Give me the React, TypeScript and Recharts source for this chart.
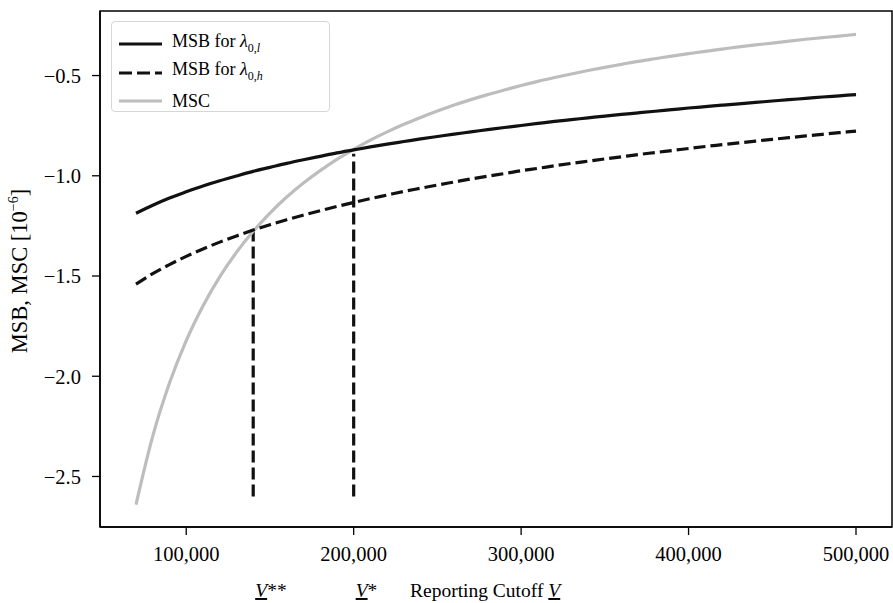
import { LineChart, Line, XAxis, YAxis, Legend, ReferenceLine, ReferenceArea } from "recharts";

// reporting cutoff V (in units of 1)
const cutoffs = [
  70000, 80000, 90000, 100000, 110000, 120000, 130000, 140000, 150000, 160000,
  170000, 180000, 190000, 200000, 210000, 220000, 230000, 240000, 250000, 260000,
  270000, 280000, 290000, 300000, 310000, 320000, 330000, 340000, 350000, 360000,
  370000, 380000, 390000, 400000, 410000, 420000, 430000, 440000, 450000, 460000,
  470000, 480000, 490000, 500000,
];

// marginal social benefit, low lambda_0
const msbLow = [
  -1.187, -1.147, -1.111, -1.08, -1.051, -1.025, -1.001, -0.978, -0.958, -0.938,
  -0.92, -0.903, -0.886, -0.871, -0.856, -0.842, -0.829, -0.816, -0.804, -0.792,
  -0.781, -0.77, -0.759, -0.749, -0.739, -0.729, -0.72, -0.711, -0.702, -0.694,
  -0.686, -0.678, -0.67, -0.662, -0.655, -0.648, -0.641, -0.634, -0.627, -0.62,
  -0.614, -0.607, -0.601, -0.595,
];

// marginal social benefit, high lambda_0
const msbHigh = [
  -1.54, -1.488, -1.443, -1.402, -1.365, -1.331, -1.3, -1.271, -1.244, -1.219,
  -1.196, -1.174, -1.153, -1.133, -1.114, -1.096, -1.078, -1.062, -1.046, -1.031,
  -1.016, -1.002, -0.989, -0.975, -0.963, -0.95, -0.938, -0.927, -0.916, -0.905,
  -0.894, -0.884, -0.874, -0.864, -0.854, -0.845, -0.836, -0.827, -0.818, -0.81,
  -0.801, -0.793, -0.785, -0.777,
];

// marginal social cost
const msc = [
  -2.64, -2.299, -2.034, -1.822, -1.649, -1.504, -1.382, -1.277, -1.186, -1.106,
  -1.036, -0.974, -0.918, -0.868, -0.822, -0.781, -0.743, -0.709, -0.677, -0.647,
  -0.62, -0.595, -0.572, -0.55, -0.529, -0.51, -0.492, -0.475, -0.459, -0.444,
  -0.429, -0.416, -0.403, -0.391, -0.379, -0.368, -0.357, -0.347, -0.338, -0.328,
  -0.319, -0.311, -0.303, -0.295,
];

const xTicks = [100000, 200000, 300000, 400000, 500000];
const yTicks = [-2.5, -2.0, -1.5, -1.0, -0.5];

// crossing points: V** (MSB high = MSC) and V* (MSB low = MSC)
const vStarStar = { x: 140000, y: -1.28, label: "**" };
const vStar = { x: 200000, y: -0.89, label: "*" };
const dropTo = -2.6;

const xDomain = [48500, 521500];
const yDomain = [-2.752, -0.178];

const data = cutoffs.map((v, i) => ({
  v,
  msbLow: msbLow[i],
  msbHigh: msbHigh[i],
  msc: msc[i],
}));

const FONT = "'Liberation Serif', 'Times New Roman', serif";
const TICK_SIZE = 20.5;
const DASH = "12 5";
const GREY = "#bdbdbd";

const fmtX = (v: number) => v.toLocaleString("en-US");
const fmtY = (v: number) => (v < 0 ? "\u2212" : "") + Math.abs(v).toFixed(1);

function YLabel(props: any) {
  const vb = props.viewBox;
  const cx = vb.x + 27;
  const cy = vb.y + vb.height / 2 + 2;
  return (
    <text
      x={cx}
      y={cy}
      transform={`rotate(-90 ${cx} ${cy})`}
      textAnchor="middle"
      fontFamily={FONT}
      fontSize={22.5}
      fill="#000"
    >
      MSB, MSC [10
      <tspan dy={-9} fontSize={14}>
        {"\u22126"}
      </tspan>
      <tspan dy={9}>]</tspan>
    </text>
  );
}

function CutoffTick(props: any) {
  const { x, y, payload } = props;
  const mark = payload.value === vStarStar.x ? vStarStar.label : vStar.label;
  return (
    <text x={x + 2} y={y + 22} fontFamily={FONT} fontSize={19.5} fill="#000">
      <tspan fontStyle="italic" textDecoration="underline">
        V
      </tspan>
      <tspan>{mark}</tspan>
    </text>
  );
}

function CutoffLabel(props: any) {
  const vb = props.viewBox;
  return (
    <text x={vb.x + 310} y={vb.y + 30} fontFamily={FONT} fontSize={19.5} fill="#000">
      Reporting Cutoff{" "}
      <tspan fontStyle="italic" textDecoration="underline">
        V
      </tspan>
    </text>
  );
}

function LegendBox() {
  const sub = { fontSize: 12 };
  const rows = [
    { stroke: "#111", dash: undefined, text: <>MSB for <i>λ</i><sub style={sub}>0,<i>l</i></sub></> },
    { stroke: "#111", dash: "13 5", text: <>MSB for <i>λ</i><sub style={sub}>0,<i>h</i></sub></> },
    { stroke: GREY, dash: undefined, text: <>MSC</> },
  ];
  return (
    <div
      style={{
        width: 219,
        height: 91,
        border: "1px solid #d6d6d6",
        borderRadius: 4,
        background: "rgba(255,255,255,0.85)",
        fontFamily: FONT,
        fontSize: 18,
        boxSizing: "border-box",
        paddingTop: 8,
      }}
    >
      {rows.map((r, i) => (
        <div key={i} style={{ display: "flex", alignItems: "center", height: 28.5, lineHeight: "18px" }}>
          <svg width={60} height={10} style={{ flex: "none" }}>
            <line x1={7} x2={50} y1={5} y2={5} stroke={r.stroke} strokeWidth={3.2} strokeDasharray={r.dash} />
          </svg>
          <span style={{ whiteSpace: "nowrap" }}>{r.text}</span>
        </div>
      ))}
    </div>
  );
}

export default function App() {
  return (
    <div style={{ position: "absolute", left: 0, top: 0, background: "#fff" }}>
      <LineChart width={893} height={603} data={data} margin={{ top: 11, right: 1, bottom: 0, left: 0 }}>
        <XAxis
          dataKey="v"
          type="number"
          domain={xDomain}
          ticks={xTicks}
          tickFormatter={fmtX}
          allowDataOverflow
          height={40}
          axisLine={{ stroke: "#000", strokeWidth: 1.5 }}
          tickLine={{ stroke: "#000", strokeWidth: 1.3 }}
          tickSize={8}
          tickMargin={11}
          tick={{ fill: "#000", fontFamily: FONT, fontSize: TICK_SIZE }}
        />
        <XAxis
          xAxisId="cut"
          dataKey="v"
          type="number"
          domain={xDomain}
          ticks={[vStarStar.x, vStar.x]}
          allowDataOverflow
          height={36}
          axisLine={false}
          tickLine={false}
          tick={<CutoffTick />}
          label={<CutoffLabel />}
        />
        <YAxis
          type="number"
          domain={yDomain}
          ticks={yTicks}
          tickFormatter={fmtY}
          allowDataOverflow
          width={100}
          axisLine={{ stroke: "#000", strokeWidth: 1.5 }}
          tickLine={{ stroke: "#000", strokeWidth: 1.3 }}
          tickSize={8}
          tickMargin={11}
          tick={{ fill: "#000", fontFamily: FONT, fontSize: TICK_SIZE }}
          label={<YLabel />}
        />
        <ReferenceArea
          x1={xDomain[0]}
          x2={xDomain[1]}
          y1={yDomain[0]}
          y2={yDomain[1]}
          fill="none"
          stroke="#000"
          strokeWidth={1.5}
          ifOverflow="visible"
        />
        <ReferenceLine
          segment={[{ x: vStarStar.x, y: dropTo }, { x: vStarStar.x, y: vStarStar.y }]}
          stroke="#111"
          strokeWidth={3.2}
          strokeDasharray={DASH}
        />
        <ReferenceLine
          segment={[{ x: vStar.x, y: dropTo }, { x: vStar.x, y: vStar.y }]}
          stroke="#111"
          strokeWidth={3.2}
          strokeDasharray={DASH}
        />
        <Line type="monotone" dataKey="msc" stroke={GREY} strokeWidth={3.2} dot={false} isAnimationActive={false} />
        <Line type="monotone" dataKey="msbLow" stroke="#111" strokeWidth={3.2} dot={false} isAnimationActive={false} />
        <Line
          type="monotone"
          dataKey="msbHigh"
          stroke="#111"
          strokeWidth={3.2}
          strokeDasharray={DASH}
          dot={false}
          isAnimationActive={false}
        />
        <Legend
          layout="horizontal"
          verticalAlign="middle"
          align="center"
          wrapperStyle={{ top: 21, left: 111, width: "auto", height: "auto" }}
          content={<LegendBox />}
        />
      </LineChart>
    </div>
  );
}
